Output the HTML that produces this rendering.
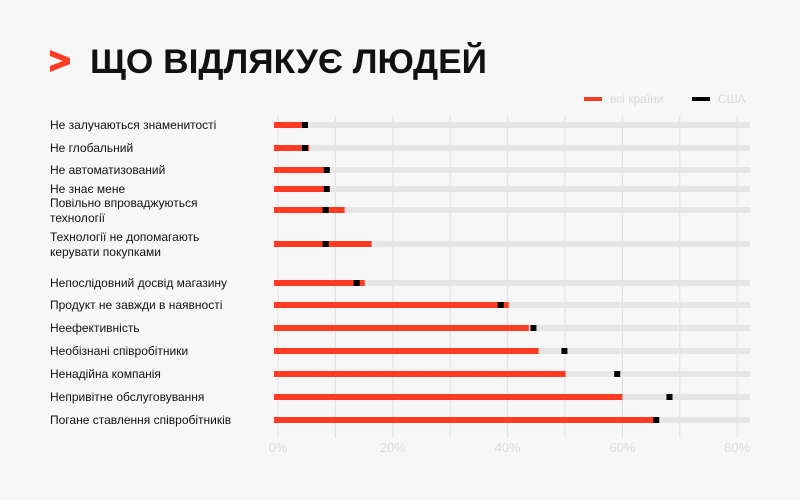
<!DOCTYPE html>
<html><head><meta charset="utf-8"><style>
html,body{margin:0;padding:0;background:#f7f7f7;}
svg{display:block;font-family:"Liberation Sans","DejaVu Sans",sans-serif;}
</style></head><body>
<svg id="chart" width="800" height="500" viewBox="0 0 800 500">
<rect width="800" height="500" fill="#f7f7f7"/>
<polygon points="50,50 70,58 70,64 50,72 50,66 63,61 50,56" fill="#ff3b22"/>
<text x="90" y="73" font-size="34" font-weight="bold" fill="#111" textLength="397" lengthAdjust="spacingAndGlyphs">ЩО ВІДЛЯКУЄ ЛЮДЕЙ</text>
<g>
<rect x="584" y="97" width="18" height="4" fill="#ff3b22"/>
<text x="610" y="103" font-size="12" fill="#d8d8d8">всі країни</text>
<rect x="692" y="97" width="18" height="4" fill="#000"/>
<text x="718" y="103" font-size="12" fill="#d8d8d8">США</text>
</g>
<g id="grid"></g><g id="bars"></g><g id="labels"></g><g id="ticks"></g>
</svg>
<script>
const categories = ["Не залучаються знаменитості","Не глобальний","Не автоматизований","Не знає мене","Повільно впроваджуються|технології","Технології не допомагають|керувати покупками","Непослідовний досвід магазину","Продукт не завжди в наявності","Неефективність","Необізнані співробітники","Ненадійна компанія","Непривітне обслуговування","Погане ставлення співробітників"];
const allCountries = [4.2,5.4,8,8,11.6,16.3,15.1,40.2,43.7,45.4,50.1,60,65.4];
const usa = [4.7,4.7,8.5,8.5,8.3,8.3,13.7,38.8,44.5,49.9,59.1,68.2,65.9];
const tickValues = [0,10,20,30,40,50,60,70,80];
const tickLabels = ["0%","","20%","","40%","","60%","","80%"];
const rowY = [125,148,170,189,210,244,283,305,328,351,374,397,420];

const NS="http://www.w3.org/2000/svg";
const x0=278, pxPer=5.74;
function x(v){return x0+v*pxPer;}
function mk(tag,attrs,parent){const e=document.createElementNS(NS,tag);for(const k in attrs)e.setAttribute(k,attrs[k]);parent.appendChild(e);return e;}
const grid=document.getElementById('grid'),bars=document.getElementById('bars'),labels=document.getElementById('labels'),ticks=document.getElementById('ticks');
tickValues.forEach((t,i)=>{
  const l=mk('line',{x1:x(t),x2:x(t),y1:116,y2:438,stroke:'#e0e0e0','stroke-width':1},grid);
  
  
  if(tickLabels[i]){
    const tx=mk('text',{x:x(t),y:452,'font-size':13,fill:'#dcdcdc','text-anchor':'middle'},ticks);
    tx.textContent=tickLabels[i];
    
    
  }
});
categories.forEach((c,i)=>{
  const y=rowY[i];
  const bg=mk('rect',{x:274,y:y-3,width:476,height:6,fill:'#e6e6e6'},bars);
  
  
  const r=mk('rect',{x:274,y:y-3,width:x(allCountries[i])-274,height:6,fill:'#ff3b22'},bars);
  
  
  const b=mk('rect',{x:x(usa[i])-3,y:y-3,width:6,height:6,fill:'#000'},bars);
  
  
  const parts=c.split('|');
  const t=mk('text',{x:50,'font-size':12,fill:'#111'},labels);
  
  
  const startY = parts.length>1 ? y+4-7 : y+4;
  parts.forEach((p,j)=>{const s=mk('tspan',{x:50,y:startY+j*15},t);s.textContent=p;});
});
</script>
</body></html>
